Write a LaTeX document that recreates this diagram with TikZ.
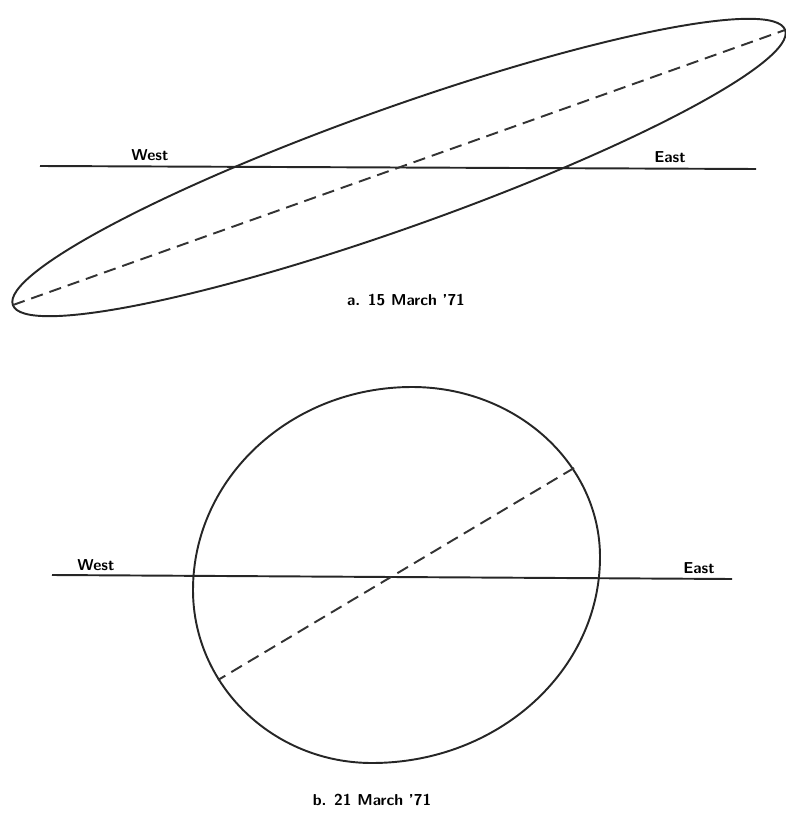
\documentclass[tikz,border=0pt]{standalone}
\usepackage{tikz}
\usetikzlibrary{positioning}
\tikzset{
  hline/.style={line width=1.1pt, draw=black!85},
  orbit/.style={line width=1.1pt, draw=black!85},
  majax/.style={line width=1.1pt, draw=black!80, dash pattern=on 7pt off 4pt},
  dirlbl/.style={font=\sffamily\bfseries\small, inner sep=1pt},
  caplbl/.style={font=\sffamily\bfseries\small, inner sep=1pt},
}

\begin{document}
\begin{tikzpicture}[x=0.02cm, y=-0.02cm]
  \useasboundingbox (0,0) rectangle (786,814);
  % a. 15 March '71
  \coordinate (ca) at (399,167.5);
  \coordinate (wa) at (40,166); \coordinate (ea) at (756,169);
  \coordinate (ta1) at (13,305); \coordinate (ta2) at (785,30);
  \draw[hline] (wa) -- (ea);
  \draw[orbit, rotate around={19.6:(ca)}] (ca) ellipse [x radius=8.2cm, y radius=1.2cm];
  \draw[majax] (ta1) -- (ta2);
  \node[dirlbl] (westa) at (150,155) {West};
  \node[dirlbl] (easta) at (670,157) {East};
  \node[caplbl] (capa) at (406,300) {a. 15 March '71};
  % b. 21 March '71
  \coordinate (nb) at (412,387); \coordinate (rb) at (600,557);
  \coordinate (sb) at (372,763); \coordinate (lb) at (193,590);
  \coordinate (wb) at (52,575); \coordinate (eb) at (732,579);
  \coordinate (tb1) at (574,468); \coordinate (tb2) at (218,680);
  \draw[hline] (wb) -- (eb);
  \draw[orbit] (nb) .. controls (515.8,387) and (600,463.2) .. (rb)
    .. controls (600,670.7) and (497.9,763) .. (sb)
    .. controls (273.2,763) and (193,685.5) .. (lb)
    .. controls (193,477.9) and (291.1,387) .. (nb) -- cycle;
  \draw[majax] (tb1) -- (tb2);
  \node[dirlbl] (westb) at (96,565) {West};
  \node[dirlbl] (eastb) at (699,568) {East};
  \node[caplbl] (capb) at (372,800) {b. 21 March '71};
\end{tikzpicture}
\end{document}
